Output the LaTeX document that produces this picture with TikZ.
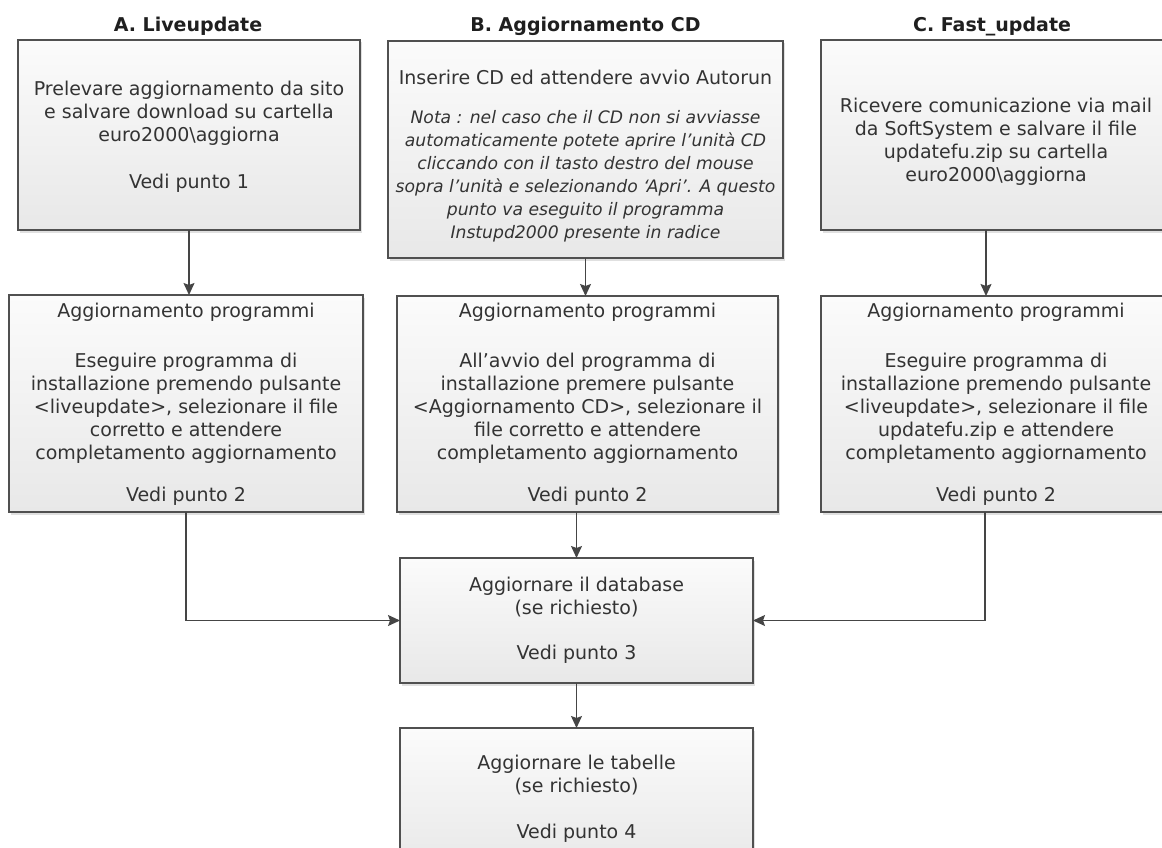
\documentclass[tikz,border=0pt]{standalone}
\usepackage{fontspec}
\setmainfont{DejaVu Sans}
\usetikzlibrary{arrows.meta,shadows}
\definecolor{boxline}{HTML}{505050}
\definecolor{boxtop}{HTML}{FBFBFB}
\definecolor{boxbot}{HTML}{E8E8E8}
\definecolor{txt}{HTML}{333333}
\definecolor{arr}{HTML}{454545}
\newcommand{\notefont}{\fontsize{17.2}{23}\selectfont\itshape}
\tikzset{
  box/.style={draw=boxline, line width=1.2pt, top color=boxtop, bottom color=boxbot,
    inner sep=0pt, outer sep=0pt,
    drop shadow={shadow xshift=2pt, shadow yshift=-2.5pt, fill=black, opacity=0.12}},
  txtn/.style={text=txt, font=\fontsize{19}{23}\selectfont, align=center, inner sep=0pt},
  ttl/.style={text=black!88, font=\bfseries\fontsize{19}{23}\selectfont, anchor=base, inner sep=0pt},
  conn/.style={draw=arr, line width=1.3pt, -{Stealth[length=12pt,width=11pt,inset=2pt]}},
}
\begin{document}
\begin{tikzpicture}[x=1pt,y=-1pt]
\useasboundingbox (0,0) rectangle (1162,848);
\fill[white] (0,0) rectangle (1162,848);
\clip (0,0) rectangle (1162,848);

% titles
\node[ttl] (tA) at (188,32) {A. Liveupdate};
\node[ttl] (tB) at (585.5,32) {B. Aggiornamento CD};
\node[ttl] (tC) at (992,32) {C. Fast\_update};

% boxes
\node[box, minimum width=342pt, minimum height=190pt] (A1) at (189,135) {};
\node[box, minimum width=395pt, minimum height=217pt] (B1) at (585.5,149.5) {};
\node[box, minimum width=350pt, minimum height=190pt] (C1) at (996,135) {};
\node[box, minimum width=354pt, minimum height=217pt] (A2) at (186,403.5) {};
\node[box, minimum width=381pt, minimum height=216pt] (B2) at (587.5,404) {};
\node[box, minimum width=350pt, minimum height=216pt] (C2) at (996,404) {};
\node[box, minimum width=353pt, minimum height=125pt] (DB) at (576.5,620.5) {};
\node[box, minimum width=353pt, minimum height=142pt] (TB) at (576.5,799) {};

% texts
\node[txtn] (xA1) at (189,137) {Prelevare aggiornamento da sito\\ e salvare download su cartella\\ euro2000\textbackslash aggiorna\\[24pt] Vedi punto 1};
\node[txtn] (xB1) at (585.5,156) {Inserire CD ed attendere avvio Autorun\\[16pt]
{\notefont Nota : nel caso che il CD non si avviasse}\\
{\notefont automaticamente potete aprire l’unità CD}\\
{\notefont cliccando con il tasto destro del mouse}\\
{\notefont sopra l’unità e selezionando ‘Apri’. A questo}\\
{\notefont punto va eseguito il programma}\\
{\notefont Instupd2000 presente in radice}};
\node[txtn] (xC1) at (996,142) {Ricevere comunicazione via mail\\ da SoftSystem e salvare il file\\ updatefu.zip su cartella\\ euro2000\textbackslash aggiorna};
\node[txtn] (xA2) at (186,404.5) {Aggiornamento programmi\\[27pt] Eseguire programma di\\ installazione premendo pulsante\\ <liveupdate>, selezionare il file\\ corretto e attendere\\ completamento aggiornamento\\[19pt] Vedi punto 2};
\node[txtn] (xB2) at (587.5,404.5) {Aggiornamento programmi\\[27pt] All’avvio del programma di\\ installazione premere pulsante\\ <Aggiornamento CD>, selezionare il\\ file corretto e attendere\\ completamento aggiornamento\\[19pt] Vedi punto 2};
\node[txtn] (xC2) at (996,404.5) {Aggiornamento programmi\\[27pt] Eseguire programma di\\ installazione premendo pulsante\\ <liveupdate>, selezionare il file\\ updatefu.zip e attendere\\ completamento aggiornamento\\[19pt] Vedi punto 2};
\node[txtn] (xDB) at (576.5,620) {Aggiornare il database\\ (se richiesto)\\[22pt] Vedi punto 3};
\node[txtn] (xTB) at (576.5,798.5) {Aggiornare le tabelle\\ (se richiesto)\\[23pt] Vedi punto 4};

% connectors
\draw[conn] (A1.south) -- (A1.south |- A2.north);
\draw[conn] (B1.south) -- (B1.south |- B2.north);
\draw[conn] ([xshift=-10pt]C1.south) -- ([xshift=-10pt]C1.south |- C2.north);
\draw[conn] (A2.south) |- (DB.west);
\draw[conn] ([xshift=-11pt]C2.south) |- (DB.east);
\draw[conn] (B2.south -| DB.north) -- (DB.north);
\draw[conn] (DB.south) -- (TB.north);
\end{tikzpicture}
\end{document}
